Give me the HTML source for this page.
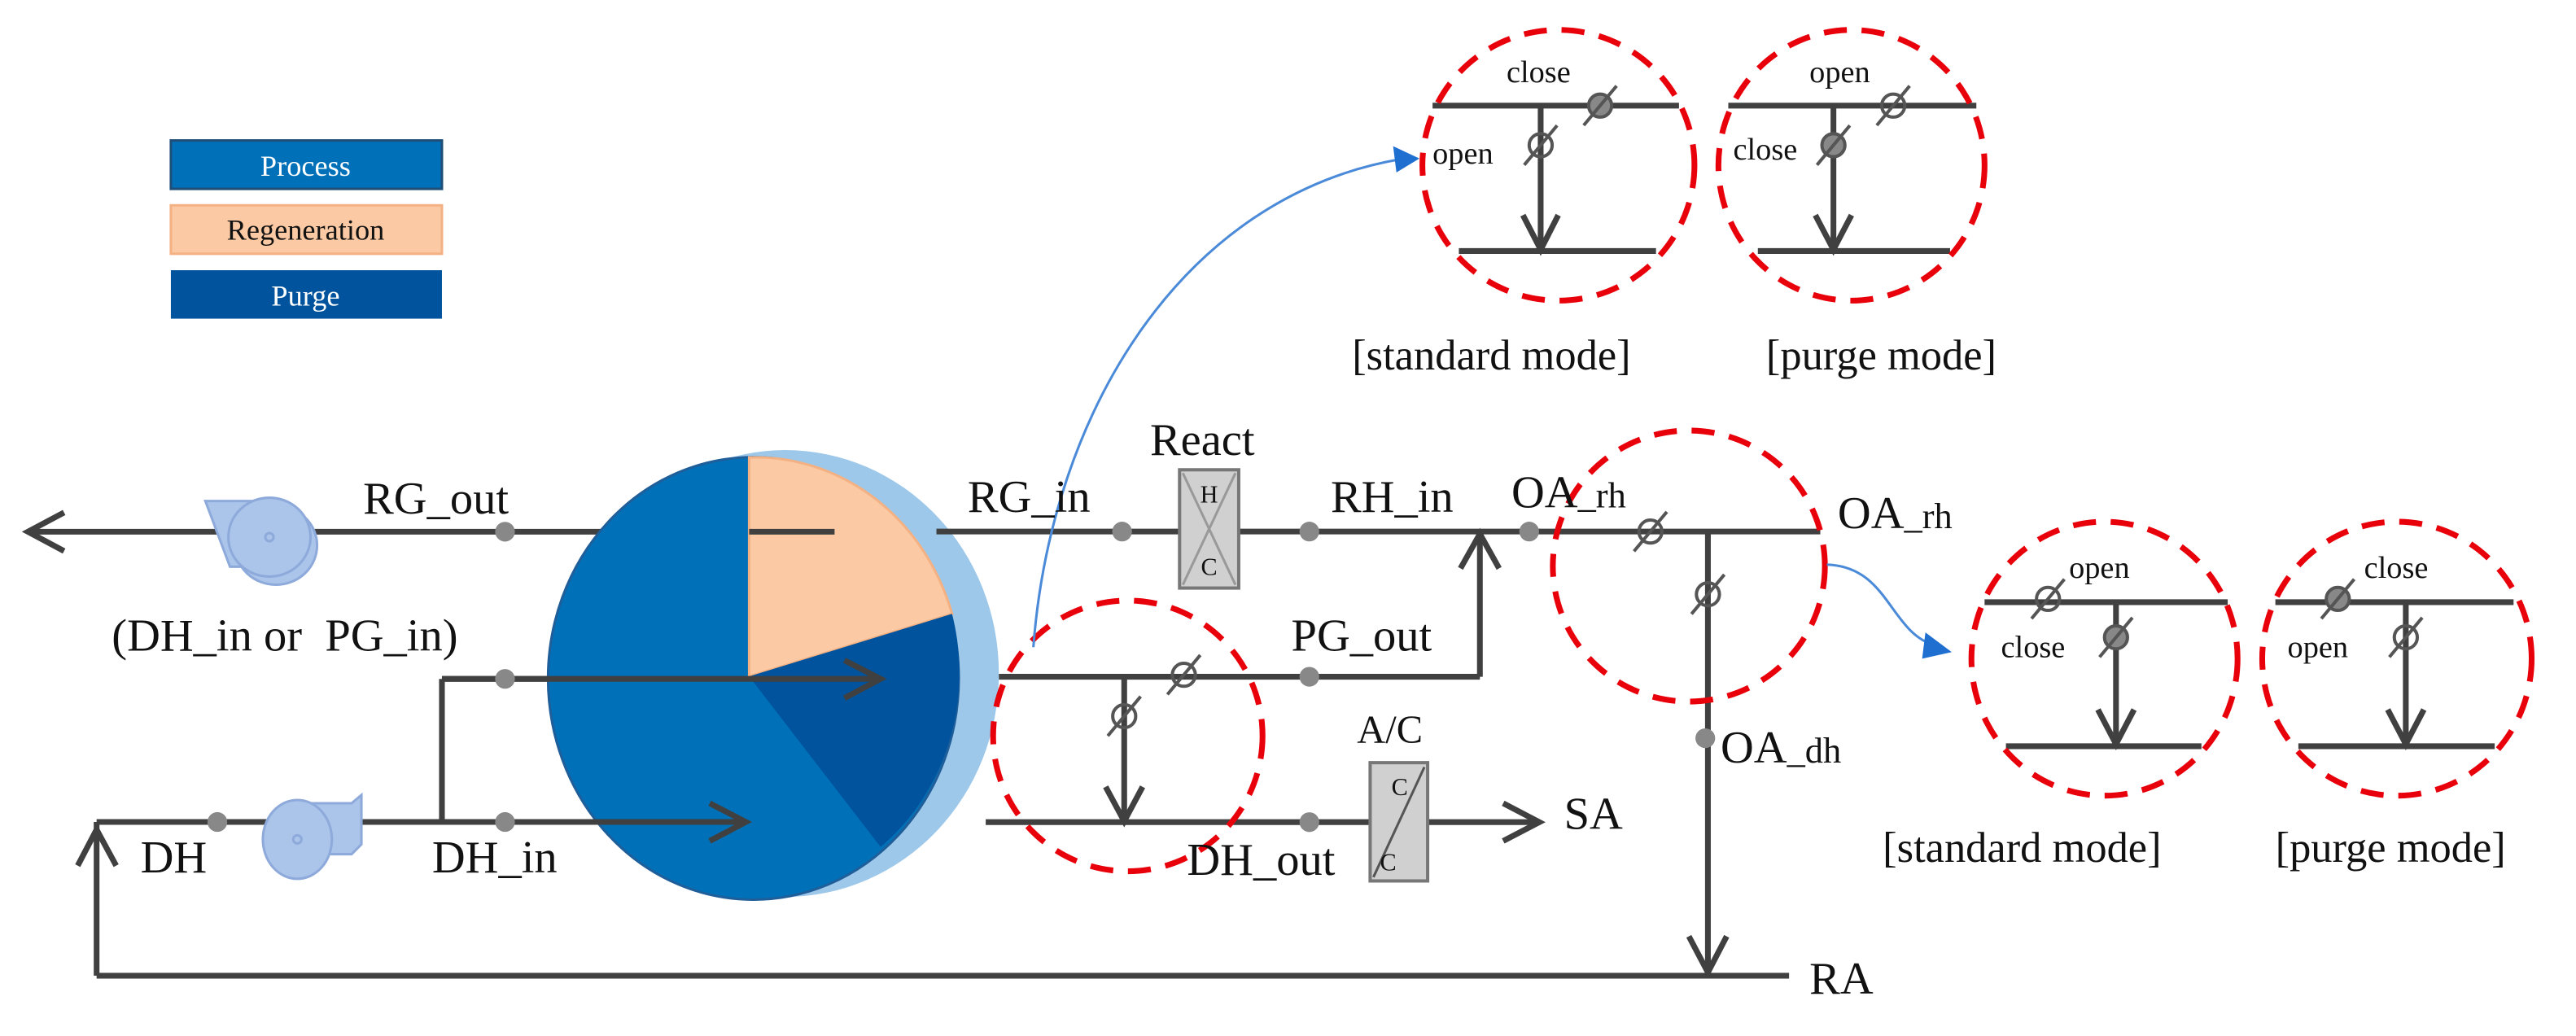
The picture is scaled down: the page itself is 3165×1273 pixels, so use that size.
<!DOCTYPE html>
<html><head><meta charset="utf-8"><style>
html,body{margin:0;padding:0;background:#fff;}
svg{display:block;}
text{font-family:"Liberation Serif",serif;fill:#111;}
</style></head><body>
<svg width="3165" height="1273" viewBox="0 0 1568 630.7" preserveAspectRatio="none" xmlns="http://www.w3.org/2000/svg">
<defs>
<g id="vo"><circle r="7" fill="none" stroke="#555" stroke-width="2"/><line x1="-10" y1="12" x2="10" y2="-12" stroke="#555" stroke-width="2"/></g>
<g id="vf"><circle r="7" fill="#888" stroke="#555" stroke-width="2"/><line x1="-10" y1="12" x2="10" y2="-12" stroke="#555" stroke-width="2"/></g>
</defs>
<!-- legend -->
<rect x="104" y="85.5" width="165" height="29.5" fill="#0070b8" stroke="#1f4e79" stroke-width="1.5"/>
<text x="186" y="107" font-size="18" text-anchor="middle" style="fill:#fff">Process</text>
<rect x="104" y="125" width="165" height="29.5" fill="#fbcaa4" stroke="#f4b183" stroke-width="1.5"/>
<text x="186" y="146" font-size="18" text-anchor="middle">Regeneration</text>
<rect x="104" y="164.5" width="165" height="29.5" fill="#00539c"/>
<text x="186" y="186" font-size="18" text-anchor="middle" style="fill:#fff">Purge</text>

<g stroke="#404040" stroke-width="3.5" fill="none">
<!-- RG line left -->
<line x1="18" y1="323.7" x2="508" y2="323.7"/>
<polyline points="39,312 17,323.7 39,335.5"/>
<!-- DH line -->
<line x1="58.8" y1="500.4" x2="454" y2="500.4"/>
<polyline points="432,489 454,500.4 432,512"/>
<line x1="269" y1="413.3" x2="269" y2="500.4"/>
<line x1="269" y1="413.3" x2="536" y2="413.3"/>
<polyline points="514,402 536,413.3 514,425"/>
<line x1="58.8" y1="500.4" x2="58.8" y2="594"/>
<polyline points="47.3,527 58.8,505 70.7,527"/>
<line x1="58.8" y1="594" x2="1089" y2="594"/>
</g>

<!-- fans -->
<g fill="#aac4ea" stroke="#8eaadb" stroke-width="1.5">
<path d="M125,305 L170,305 L180,345 L140,345 Z"/>
<ellipse cx="168" cy="332" rx="25" ry="24"/>
<ellipse cx="164" cy="327" rx="25" ry="24"/>
<circle cx="164" cy="327" r="2.5" fill="none"/>
<path d="M190,489 L214,489 L220,484 L220,514 L214,520 L195,520 Z"/>
<ellipse cx="181" cy="511" rx="21" ry="24"/>
<circle cx="181" cy="511" r="2.5" fill="none"/>
</g>

<!-- wheel -->
<ellipse cx="478" cy="410" rx="130" ry="136" fill="#9dc8ea"/>
<ellipse cx="458.6" cy="413" rx="125" ry="134.7" fill="#0070b8" stroke="#1f5e99" stroke-width="1.5"/>
<path d="M456,411.8 L456,278.5 A125,134.7 0 0 1 579.5,373.7 Z" fill="#fbcaa4" stroke="#f4b183" stroke-width="1.5"/>
<path d="M456,411.8 L579.5,373.7 A125,134.7 0 0 1 536,515.6 Z" fill="#00539c"/>
<g stroke="#404040" stroke-width="3.5" fill="none">
<line x1="456" y1="323.7" x2="508" y2="323.7"/>
<line x1="269" y1="413.3" x2="536" y2="413.3"/>
<polyline points="514,402 536,413.3 514,425"/>
<line x1="330" y1="500.4" x2="454" y2="500.4"/>
<polyline points="432,489 454,500.4 432,512"/>
<!-- right side lines -->
<line x1="570" y1="323.6" x2="1108" y2="323.6"/>
<line x1="608" y1="412" x2="900.8" y2="412"/>
<line x1="900.8" y1="412" x2="900.8" y2="326"/>
<polyline points="889,346 900.8,325 912.5,346"/>
<line x1="684.3" y1="412" x2="684.3" y2="500"/>
<polyline points="673,479 684.3,500 695.5,479"/>
<line x1="600" y1="500.5" x2="937" y2="500.5"/>
<polyline points="915,489 937,500.5 915,512"/>
<line x1="1039.6" y1="323.6" x2="1039.6" y2="592"/>
<polyline points="1028,570 1039.6,592 1051,570"/>
</g>
<!-- dots -->
<g fill="#888">
<circle cx="307.4" cy="323.7" r="6"/><circle cx="307.4" cy="413.3" r="6"/><circle cx="307.4" cy="500.4" r="6"/><circle cx="132.3" cy="500.4" r="6"/>
<circle cx="683" cy="323.6" r="6"/><circle cx="797" cy="323.6" r="6"/><circle cx="930.8" cy="323.6" r="6"/>
<circle cx="797" cy="412" r="6"/><circle cx="797" cy="500.5" r="6"/><circle cx="1038" cy="449.4" r="6"/>
</g>
<!-- React box -->
<rect x="718" y="286" width="36" height="72" fill="#d0d0d0" stroke="#777" stroke-width="2"/>
<line x1="720" y1="288" x2="752" y2="356" stroke="#999" stroke-width="1.5"/><line x1="752" y1="288" x2="720" y2="356" stroke="#999" stroke-width="1.5"/>
<text x="736" y="306" font-size="15" text-anchor="middle">H</text><text x="736" y="350" font-size="15" text-anchor="middle">C</text>
<!-- A/C box -->
<rect x="834" y="464.3" width="35" height="72" fill="#d0d0d0" stroke="#777" stroke-width="2"/>
<line x1="836" y1="534" x2="867" y2="467" stroke="#555" stroke-width="1.5"/>
<text x="852" y="484" font-size="15" text-anchor="middle">C</text><text x="845" y="530" font-size="15" text-anchor="middle">C</text>

<!-- valves main -->
<use href="#vo" x="720.6" y="410.8"/><use href="#vo" x="684.3" y="436"/>
<use href="#vo" x="1004.6" y="323.6"/><use href="#vo" x="1039.6" y="361.8"/>

<!-- detail diagrams -->
<g stroke="#404040" stroke-width="3.5" fill="none">
<line x1="872" y1="64.3" x2="1022" y2="64.3"/><line x1="937.8" y1="64.3" x2="937.8" y2="152"/><polyline points="927,131 937.8,152 948.5,131"/><line x1="888" y1="152.8" x2="1008" y2="152.8"/>
<line x1="1052" y1="64.3" x2="1203" y2="64.3"/><line x1="1116" y1="64.3" x2="1116" y2="152"/><polyline points="1105,131 1116,152 1127,131"/><line x1="1070" y1="152.8" x2="1187" y2="152.8"/>
<line x1="1208" y1="366.6" x2="1356" y2="366.6"/><line x1="1288" y1="366.6" x2="1288" y2="453"/><polyline points="1277,432 1288,453 1299,432"/><line x1="1221" y1="454.3" x2="1340" y2="454.3"/>
<line x1="1385" y1="366.6" x2="1530" y2="366.6"/><line x1="1464.4" y1="366.6" x2="1464.4" y2="453"/><polyline points="1453.4,432 1464.4,453 1475.4,432"/><line x1="1399" y1="454.3" x2="1518.5" y2="454.3"/>
</g>
<use href="#vf" x="974" y="64.3"/><use href="#vo" x="937.8" y="88.4"/>
<use href="#vo" x="1152.4" y="64.3"/><use href="#vf" x="1116" y="88.4"/>
<use href="#vo" x="1246.6" y="364.6"/><use href="#vf" x="1288" y="388"/>
<use href="#vf" x="1423" y="364.6"/><use href="#vo" x="1464.4" y="388"/>

<!-- red dashed circles -->
<g fill="none" stroke="#e8000b" stroke-width="3.5" stroke-dasharray="14 9">
<ellipse cx="948.6" cy="100.6" rx="82.8" ry="82.4"/>
<ellipse cx="1127" cy="100.6" rx="81" ry="82.4"/>
<ellipse cx="686.5" cy="448" rx="82" ry="82.4"/>
<ellipse cx="1028" cy="344.6" rx="82.8" ry="82.5"/>
<ellipse cx="1281" cy="401" rx="81" ry="83.4"/>
<ellipse cx="1459" cy="401" rx="82" ry="83.4"/>
</g>

<!-- blue arrows -->
<path d="M629,394 C640,250 720,120 852,97" fill="none" stroke="#4a8ad8" stroke-width="1.5"/>
<polygon points="864,96.5 848,89 850,105" fill="#1f6fd0"/>
<path d="M1112,343.7 C1150,345 1150,385 1178,393" fill="none" stroke="#4a8ad8" stroke-width="1.5"/>
<polygon points="1188,397 1172,385 1170,401" fill="#1f6fd0"/>

<!-- labels -->
<g font-size="28">
<text x="221" y="312.6">RG_out</text>
<text x="68" y="396">(DH_in or&#160; PG_in)</text>
<text x="85.5" y="531">DH</text>
<text x="263" y="531">DH_in</text>
<text x="589" y="311.6">RG_in</text>
<text x="700" y="277">React</text>
<text x="810" y="311.6">RH_in</text>
<text x="920" y="309">OA<tspan font-size="22">_rh</tspan></text>
<text x="1118.6" y="321.6">OA<tspan font-size="22">_rh</tspan></text>
<text x="786" y="396">PG_out</text>
<text x="826" y="452" font-size="24">A/C</text>
<text x="952" y="504.5">SA</text>
<text x="722.5" y="532.7">DH_out</text>
<text x="1047.3" y="464.3">OA<tspan font-size="22">_dh</tspan></text>
<text x="1101.4" y="605">RA</text>
</g>
<g font-size="26">
<text x="823" y="225">[standard mode]</text>
<text x="1075" y="225">[purge mode]</text>
<text x="1146" y="524.6">[standard mode]</text>
<text x="1385" y="524.6">[purge mode]</text>
</g>
<g font-size="19">
<text x="917" y="50">close</text><text x="872" y="99.7">open</text>
<text x="1101.4" y="50">open</text><text x="1055" y="97">close</text>
<text x="1259.4" y="351.7">open</text><text x="1218" y="400">close</text>
<text x="1439" y="351.7">close</text><text x="1392.4" y="400">open</text>
</g>
</svg>
</body></html>
